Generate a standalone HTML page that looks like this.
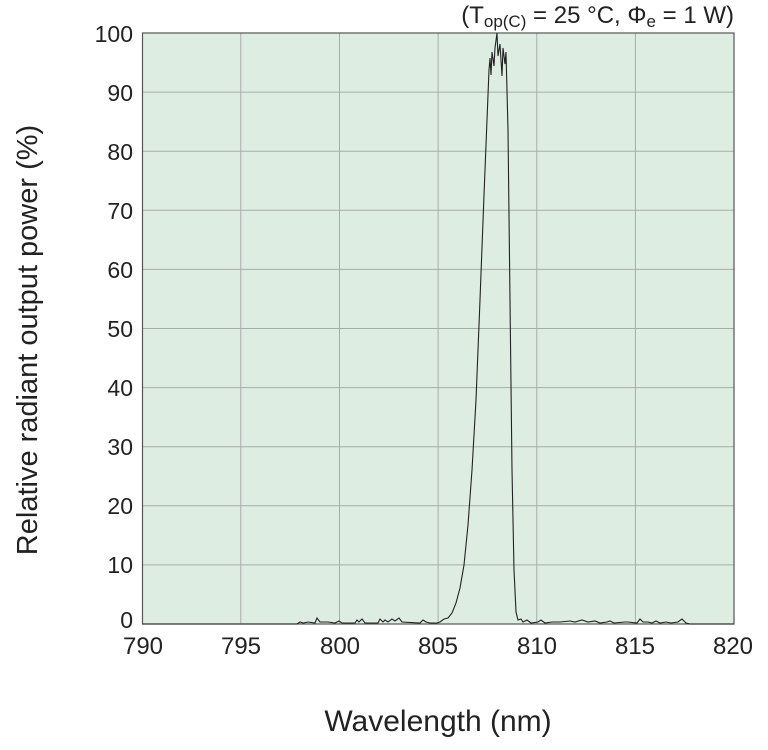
<!DOCTYPE html>
<html><head><style>
body{margin:0;background:#fff;}
svg{display:block;font-family:"Liberation Sans",sans-serif;}
</style></head><body>
<svg width="768" height="750" viewBox="0 0 768 750">
<rect x="142.5" y="33" width="591.5" height="591" fill="#deede2"/>
<g stroke="#a8aca8" stroke-width="1">
<line x1="240.8" y1="33" x2="240.8" y2="624"/>
<line x1="339.5" y1="33" x2="339.5" y2="624"/>
<line x1="438.1" y1="33" x2="438.1" y2="624"/>
<line x1="536.8" y1="33" x2="536.8" y2="624"/>
<line x1="635.4" y1="33" x2="635.4" y2="624"/>
<line x1="142.5" y1="92.1" x2="734" y2="92.1"/>
<line x1="142.5" y1="151.2" x2="734" y2="151.2"/>
<line x1="142.5" y1="210.3" x2="734" y2="210.3"/>
<line x1="142.5" y1="269.4" x2="734" y2="269.4"/>
<line x1="142.5" y1="328.5" x2="734" y2="328.5"/>
<line x1="142.5" y1="387.6" x2="734" y2="387.6"/>
<line x1="142.5" y1="446.7" x2="734" y2="446.7"/>
<line x1="142.5" y1="505.8" x2="734" y2="505.8"/>
<line x1="142.5" y1="564.9" x2="734" y2="564.9"/>
</g>
<rect x="142.5" y="33" width="591.5" height="591" fill="none" stroke="#555" stroke-width="1.2"/>
<polyline fill="none" stroke="#222" stroke-width="1.1" points="142.5,624 297,624 300,622 303,623 308,622 315,623 317,618 320,622 328,622 335,623 339,621 342,623 355,623 357,620 359,622 362,619 365,623 378,623 380,619 383,622 385,620 388,622 392,619 395,621 399,618 402,622 420,623 423,620 426,622 430,623 437,623 440,622 444,619 448,618 452,613 456,603 460,588 464,565 468,525 472,470 476,400 480,300 484,195 487,120 489,70 490,58 491,75 492,52 494,66 495,48 497,33 498,56 500,44 502,76 503,48 505,64 506,52 508,130 510,300 512,470 514,570 516,612 518,620 521,619 523,622 527,620 531,623 538,622 541,620 545,623 552,622 560,622 570,621 575,622 582,620 588,622 595,621 600,623 607,622 610,621 614,623 625,622 628,622 637,623 640,619 643,622 648,622 652,623 656,621 660,623 666,622 671,623 678,622 682,619 686,623 690,624 734,624"/>
<g font-size="23" fill="#222" text-anchor="end">
<text x="133" y="42">100</text>
<text x="133" y="101">90</text>
<text x="133" y="160">80</text>
<text x="133" y="219">70</text>
<text x="133" y="278">60</text>
<text x="133" y="337">50</text>
<text x="133" y="396">40</text>
<text x="133" y="455">30</text>
<text x="133" y="514">20</text>
<text x="133" y="573">10</text>
<text x="133" y="628">0</text>
</g>
<g font-size="24" fill="#222" text-anchor="middle">
<text x="143" y="654">790</text>
<text x="241" y="654">795</text>
<text x="340" y="654">800</text>
<text x="438" y="654">805</text>
<text x="537" y="654">810</text>
<text x="635" y="654">815</text>
<text x="733" y="654">820</text>
</g>
<text x="438" y="731" font-size="30" fill="#222" text-anchor="middle">Wavelength (nm)</text>
<text transform="translate(37,340) rotate(-90)" font-size="29" fill="#222" text-anchor="middle">Relative radiant output power (%)</text>
<text x="734" y="23" font-size="24" fill="#222" text-anchor="end">(T<tspan font-size="17" dy="4">op(C)</tspan><tspan dy="-4"> = 25 °C, Φ</tspan><tspan font-size="17" dy="4">e</tspan><tspan dy="-4"> = 1 W)</tspan></text>
</svg>
</body></html>
